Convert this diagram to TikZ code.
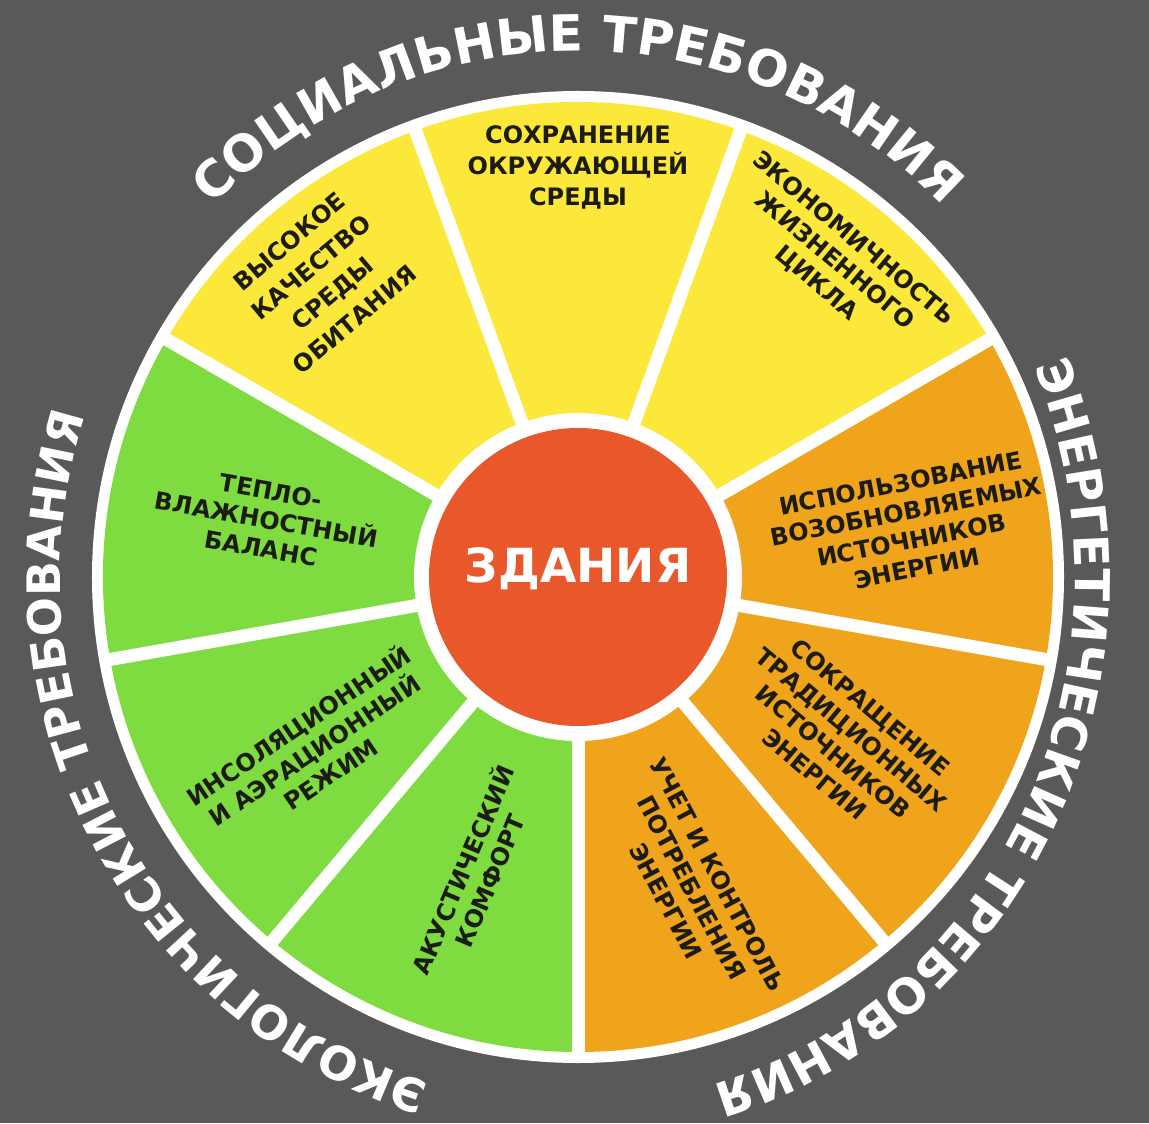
\documentclass[tikz,border=0pt]{standalone}
\usepackage{fontspec}
\setmainfont{DejaVu Sans}
\usetikzlibrary{decorations.text}

\definecolor{bggray}{RGB}{89,89,89}
\definecolor{wyellow}{RGB}{252,232,58}
\definecolor{wgreen}{RGB}{126,219,64}
\definecolor{worange}{RGB}{240,164,28}
\definecolor{wred}{RGB}{232,88,42}
\definecolor{wtext}{RGB}{28,28,20}
\newcommand\ringfontlg{\bfseries\fontsize{25}{30}\selectfont}
\newcommand\ringfont{\bfseries\fontsize{24}{29}\selectfont}
\newcommand\ringfontsm{\bfseries\fontsize{23}{28}\selectfont}

\begin{document}
\begin{tikzpicture}[x=0.5pt,y=0.5pt,
  sectortext/.style={font=\bfseries\fontsize{12}{14.5}\selectfont,text=wtext,align=center,inner sep=0pt},
  ring/.style 2 args={decorate,decoration={text along path,text align=center,text color=white,text={|#1|#2}}}]

\useasboundingbox[fill=bggray] (-578,-546) rectangle (571,577);

% wheel
\fill[white] (0,0) circle (486);
\fill[wyellow] (0,0) -- (30:475) arc[start angle=30,end angle=150,radius=475] -- cycle;
\fill[wgreen] (0,0) -- (150:475) arc[start angle=150,end angle=270,radius=475] -- cycle;
\fill[worange] (0,0) -- (-90:475) arc[start angle=-90,end angle=30,radius=475] -- cycle;
\foreach \a in {30,70,...,350}
  \draw[white,line width=6.5pt] (0,0) -- (\a:481);
\fill[white] (0,0) circle (164);
\fill[wred] (0,0) circle (149);

\node[font=\bfseries\fontsize{23.5}{28}\selectfont,text=white] (c) at (0,8) {ЗДАНИЯ};

% social
\node[sectortext,rotate=40,font=\bfseries\fontsize{12}{17}\selectfont] (s1) at (130.8:392) {ВЫСОКОЕ\\КАЧЕСТВО\\СРЕДЫ\\ОБИТАНИЯ};
\node[sectortext,font=\bfseries\fontsize{12}{15.5}\selectfont] (s2) at (90:410) {СОХРАНЕНИЕ\\ОКРУЖАЮЩЕЙ\\СРЕДЫ};
\node[sectortext,rotate=-40] (s3) at (50.9:407) {ЭКОНОМИЧНОСТЬ\\ЖИЗНЕННОГО\\ЦИКЛА};

% energy
\node[sectortext,rotate=11] (s4) at (8.8:335) {ИСПОЛЬЗОВАНИЕ\\ВОЗОБНОВЛЯЕМЫХ\\ИСТОЧНИКОВ\\ЭНЕРГИИ};
\node[sectortext,rotate=-40] (s5) at (-31.8:311) {СОКРАЩЕНИЕ\\ТРАДИЦИОННЫХ\\ИСТОЧНИКОВ\\ЭНЕРГИИ};
\node[sectortext,rotate=-62] (s6) at (-69.9:331) {УЧЕТ И КОНТРОЛЬ\\ПОТРЕБЛЕНИЯ\\ЭНЕРГИИ};

% ecology
\node[sectortext,rotate=67] (s7) at (250.9:315) {АКУСТИЧЕСКИЙ\\КОМФОРТ};
\node[sectortext,rotate=34] (s8) at (213:315) {ИНСОЛЯЦИОННЫЙ\\И АЭРАЦИОННЫЙ\\РЕЖИМ};
\node[sectortext,rotate=-10] (s9) at (169.6:317) {ТЕПЛО-\\ВЛАЖНОСТНЫЙ\\БАЛАНС};

% outer captions
\path[ring={\ringfontlg}{СОЦИАЛЬНЫЕ ТРЕБОВАНИЯ}] (170:515 and 526) arc[start angle=170,end angle=10,x radius=515,y radius=526];
\path[ring={\ringfont}{ЭНЕРГЕТИЧЕСКИЕ ТРЕБОВАНИЯ}] (54:497 and 528) arc[start angle=54,end angle=-106,x radius=497,y radius=528];
\path[ring={\ringfontsm}{ЭКОЛОГИЧЕСКИЕ ТРЕБОВАНИЯ}] (288:518 and 528) arc[start angle=288,end angle=128,x radius=518,y radius=528];
\end{tikzpicture}
\end{document}
